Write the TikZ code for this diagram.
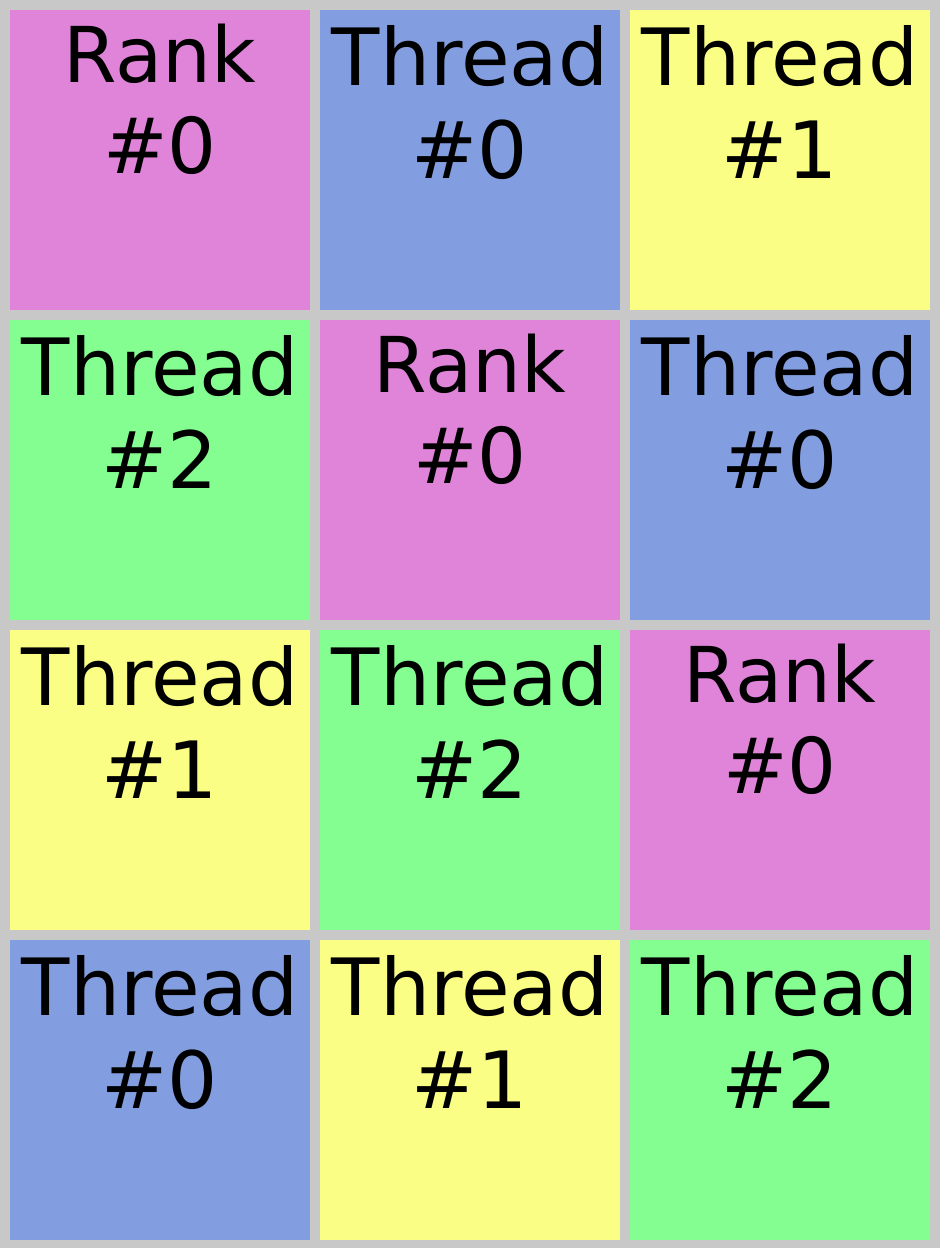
\documentclass[tikz,border=0pt]{standalone}
\usepackage{fontspec}
\setmainfont{DejaVu Sans}
\usetikzlibrary{positioning}
\definecolor{rankc}{RGB}{223,132,217}
\definecolor{thra}{RGB}{130,158,224}
\definecolor{thrb}{RGB}{250,254,132}
\definecolor{thrc}{RGB}{132,254,144}
\definecolor{bgc}{RGB}{200,200,200}

\begin{document}
\begin{tikzpicture}[x=1pt,y=1pt]
\tikzstyle{c}=[anchor=north west,minimum width=300pt,minimum height=300pt,inner sep=0pt,outer sep=0pt]
\tikzstyle{t}=[align=center,inner sep=0pt,anchor=north,yshift=-15pt,font=\fontsize{79}{93}\selectfont]
\tikzstyle{r}=[align=center,inner sep=0pt,anchor=north,yshift=-14pt,font=\fontsize{77}{91}\selectfont]
\fill[bgc] (0,0) rectangle (940,-1248);
% row 1
\node[c,fill=rankc,label={[r]north:Rank\\\#0}] (a1) at (10,-10) {};
\node[c,fill=thra,label={[t]north:Thread\\\#0}] (a2) at (320,-10) {};
\node[c,fill=thrb,label={[t]north:Thread\\\#1}] (a3) at (630,-10) {};
% row 2
\node[c,fill=thrc,label={[t]north:Thread\\\#2}] (b1) at (10,-320) {};
\node[c,fill=rankc,label={[r]north:Rank\\\#0}] (b2) at (320,-320) {};
\node[c,fill=thra,label={[t]north:Thread\\\#0}] (b3) at (630,-320) {};
% row 3
\node[c,fill=thrb,label={[t]north:Thread\\\#1}] (c1) at (10,-630) {};
\node[c,fill=thrc,label={[t]north:Thread\\\#2}] (c2) at (320,-630) {};
\node[c,fill=rankc,label={[r]north:Rank\\\#0}] (c3) at (630,-630) {};
% row 4
\node[c,fill=thra,label={[t]north:Thread\\\#0}] (d1) at (10,-940) {};
\node[c,fill=thrb,label={[t]north:Thread\\\#1}] (d2) at (320,-940) {};
\node[c,fill=thrc,label={[t]north:Thread\\\#2}] (d3) at (630,-940) {};
\end{tikzpicture}
\end{document}
